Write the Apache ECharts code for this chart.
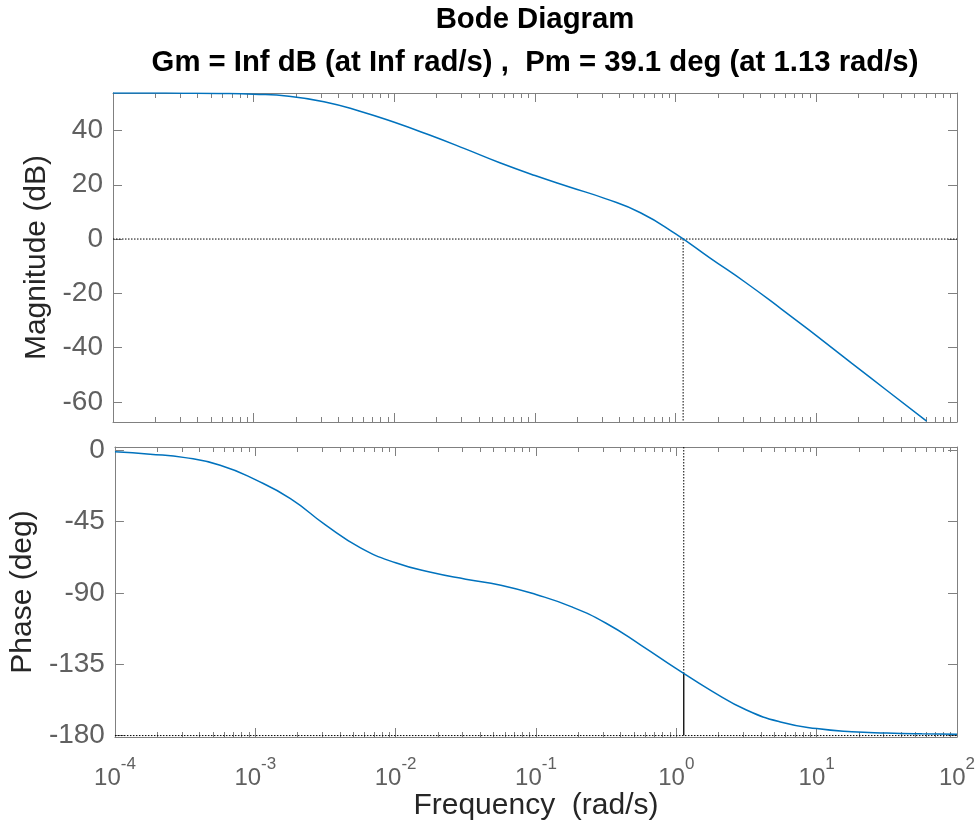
<!DOCTYPE html>
<html><head><meta charset="utf-8">
<script src="https://cdn.jsdelivr.net/npm/echarts@6/dist/echarts.min.js"></script>
<style>html,body{margin:0;padding:0;background:#fff}#c{width:980px;height:829px}</style>
</head><body><div id="c"></div>
<script>
// ---- data ----
const magFreq = [0.0001, 0.000178, 0.000316, 0.000562, 0.001, 0.00178, 0.00316, 0.00562, 0.01, 0.0178, 0.0316, 0.0562, 0.1, 0.178, 0.316, 0.562, 1.0, 1.78, 3.16, 5.62, 10, 17.8, 31.6, 60.8];
const magDb   = [53.8, 53.8, 53.75, 53.65, 53.35, 52.6, 50.6, 47.2, 43.0, 38.3, 33.3, 28.1, 23.4, 19.1, 14.9, 9.7, 1.9, -7.2, -16.1, -25.7, -35.6, -45.7, -55.7, -67.1];
const phaseFreq = [0.0001, 0.000178, 0.000316, 0.000562, 0.001, 0.00178, 0.00316, 0.00562, 0.01, 0.0178, 0.0316, 0.0562, 0.1, 0.178, 0.316, 0.562, 1.0, 1.78, 3.16, 5.62, 10, 17.8, 31.6, 56.2, 100];
const phaseDeg  = [-1.1, -2.6, -4.8, -9.6, -18.7, -30.6, -47.2, -61.7, -71.1, -77.1, -81.4, -85.2, -91.1, -98.7, -109.2, -123.1, -137.8, -151.8, -163.9, -171.6, -175.6, -177.6, -178.4, -178.9, -179.2];
const crossFreq = 1.13;
const pmPhase = -140.9;
const xTickValues = [1e-4, 1e-3, 1e-2, 1e-1, 1, 10, 100];
const magTicks = [-60, -40, -20, 0, 20, 40];
const phaseTicks = [-180, -135, -90, -45, 0];
const titleLine1 = 'Bode Diagram';
const titleLine2 = 'Gm = Inf dB (at Inf rad/s) ,  Pm = 39.1 deg (at 1.13 rad/s)';

// ---- ranges ----
const xMin = 1e-4, xMax = 100;
const magMin = -67.4, magMax = 53.8;
const phMin = -180.9, phMax = 1.9;

const FONT = '"Liberation Sans", Arial, Helvetica, sans-serif';
const AX = '#808080';
const LBL = '#606060';
const BLUE = '#0072BD';

const minorTicks = [];
for (let i = 0; i < xTickValues.length - 1; i++) {
  for (let k = 2; k <= 9; k++) minorTicks.push(+(k * xTickValues[i]).toPrecision(3));
}

function xAx(grid, pos, major, extra) {
  return Object.assign({
    type: 'log', logBase: 10, gridIndex: grid, position: pos, min: xMin, max: xMax,
    axisLine: { show: major, onZero: false, lineStyle: { color: AX, width: 1 } },
    axisTick: { show: true, inside: true, length: major ? 9 : 5, customValues: major ? xTickValues : minorTicks, lineStyle: { color: AX, width: 1 } },
    axisLabel: { show: false },
    splitLine: { show: false }, minorTick: { show: false }, minorSplitLine: { show: false }
  }, extra || {});
}
function yAx(grid, pos, min, max, ticks, extra) {
  return Object.assign({
    type: 'value', gridIndex: grid, position: pos, min: min, max: max,
    axisLine: { show: true, onZero: false, lineStyle: { color: AX, width: 1 } },
    axisTick: { show: true, inside: true, length: 9, customValues: ticks, lineStyle: { color: AX, width: 1 } },
    axisLabel: { show: false },
    splitLine: { show: false }
  }, extra || {});
}

const NAME_STYLE = { fontSize: 30, fontFamily: FONT, color: '#262626' };
const xLabelAxis = {
  axisLabel: {
    show: true, customValues: xTickValues, margin: 19,
    formatter: v => '{b|10}{s|' + Math.round(Math.log10(v)) + '}',
    rich: {
      b: { fontSize: 24, fontFamily: FONT, color: LBL, lineHeight: 34, verticalAlign: 'bottom' },
      s: { fontSize: 17, fontFamily: FONT, color: LBL, lineHeight: 34, verticalAlign: 'top' }
    }
  },
  name: 'Frequency  (rad/s)', nameLocation: 'middle', nameGap: 54,
  nameTextStyle: NAME_STYLE
};

const option = {
  animation: false,
  backgroundColor: '#fff',
  graphic: [
    { type: 'text', x: 535, y: 20, style: { text: titleLine1, align: 'center', verticalAlign: 'middle', fontSize: 29.3, fontWeight: 'bold', fontFamily: FONT, fill: '#000' } },
    { type: 'text', x: 535, y: 63, style: { text: titleLine2, align: 'center', verticalAlign: 'middle', fontSize: 29.3, fontWeight: 'bold', fontFamily: FONT, fill: '#000' } }
  ],
  grid: [
    { left: 113, right: 23, top: 93, height: 329 },
    { left: 113, right: 23, top: 447, height: 290 }
  ],
  xAxis: [
    xAx(0, 'bottom', true), xAx(0, 'bottom', false), xAx(0, 'top', true), xAx(0, 'top', false),
    xAx(1, 'bottom', true, xLabelAxis), xAx(1, 'bottom', false), xAx(1, 'top', true), xAx(1, 'top', false)
  ],
  yAxis: [
    yAx(0, 'left', magMin, magMax, magTicks, {
      axisLabel: { show: true, customValues: magTicks, margin: 10, fontSize: 28, fontFamily: FONT, color: LBL },
      name: 'Magnitude (dB)', nameLocation: 'middle', nameGap: 56, nameTextStyle: NAME_STYLE
    }),
    yAx(0, 'right', magMin, magMax, magTicks),
    yAx(1, 'left', phMin, phMax, phaseTicks, {
      axisLabel: { show: true, customValues: phaseTicks, margin: 10, fontSize: 28, fontFamily: FONT, color: LBL },
      name: 'Phase (deg)', nameLocation: 'middle', nameGap: 69, nameTextStyle: NAME_STYLE
    }),
    yAx(1, 'right', phMin, phMax, phaseTicks)
  ],
  series: [
    { type: 'line', xAxisIndex: 0, yAxisIndex: 0, symbol: 'none', silent: true,
      lineStyle: { color: '#000', width: 1, type: [1.5, 1.5] }, data: [[xMin, 0], [xMax, 0]] },
    { type: 'line', xAxisIndex: 0, yAxisIndex: 0, symbol: 'none', silent: true,
      lineStyle: { color: '#000', width: 1, type: [1.5, 1.5] }, data: [[crossFreq, 0], [crossFreq, magMin]] },
    { type: 'line', xAxisIndex: 0, yAxisIndex: 0, symbol: 'none', silent: true, smooth: 0.5,
      lineStyle: { color: BLUE, width: 1.5 }, data: magFreq.map((f, i) => [f, magDb[i]]) },
    { type: 'line', xAxisIndex: 4, yAxisIndex: 2, symbol: 'none', silent: true,
      lineStyle: { color: '#000', width: 1, type: [1.5, 1.5] }, data: [[xMin, -180], [xMax, -180]] },
    { type: 'line', xAxisIndex: 4, yAxisIndex: 2, symbol: 'none', silent: true,
      lineStyle: { color: '#000', width: 1, type: [1.5, 1.5] }, data: [[crossFreq, phMax], [crossFreq, pmPhase]] },
    { type: 'line', xAxisIndex: 4, yAxisIndex: 2, symbol: 'none', silent: true,
      lineStyle: { color: '#000', width: 1.3 }, data: [[crossFreq, pmPhase], [crossFreq, -180]] },
    { type: 'line', xAxisIndex: 4, yAxisIndex: 2, symbol: 'none', silent: true, smooth: 0.5,
      lineStyle: { color: BLUE, width: 1.5 }, data: phaseFreq.map((f, i) => [f, phaseDeg[i]]) }
  ]
};
const chart = echarts.init(document.getElementById('c'));
chart.setOption(option);
</script>
</body></html>
